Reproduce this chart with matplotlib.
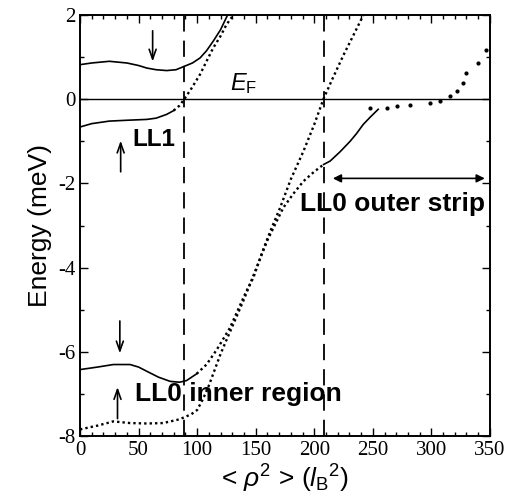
import matplotlib
matplotlib.use("Agg")
import matplotlib.pyplot as plt
from matplotlib.ticker import MultipleLocator

plt.rcParams["font.family"] = ["Liberation Sans", "DejaVu Sans"]
plt.rcParams["mathtext.fontset"] = "custom"
plt.rcParams["mathtext.rm"] = "Liberation Sans"
plt.rcParams["mathtext.it"] = "Liberation Sans:italic"
plt.rcParams["axes.unicode_minus"] = False

# LL1, spin-down (upper) branch
ll1_dn_x = [0, 10, 25, 40, 50, 57, 65, 74, 82, 89, 96, 102.5, 108, 113.8, 120, 126]
ll1_dn_e = [0.82, 0.86, 0.90, 0.86, 0.80, 0.74, 0.70, 0.68, 0.70, 0.78, 0.86, 0.98, 1.15, 1.38, 1.65, 2.0]

# LL1, spin-up (lower) branch
ll1_up_x = [0, 10, 25, 40, 57, 65, 74, 80, 85, 89, 95, 102.5, 108, 113.8, 120, 125, 131]
ll1_up_e = [-0.66, -0.58, -0.52, -0.50, -0.48, -0.45, -0.36, -0.27, -0.15, 0.0, 0.25, 0.59, 0.90, 1.22, 1.50, 1.77, 2.0]

# LL0, upper branch (continues into the steep crossing at ~208)
ll0_dn_x = [0, 15, 28.5, 42.7, 50, 57, 67, 77, 85, 91, 99.6, 108, 116.7, 128, 142, 148, 156,
            163, 170.8, 180, 190.7, 200, 207.8, 215, 225, 234, 242]
ll0_dn_e = [-6.42, -6.36, -6.30, -6.30, -6.36, -6.46, -6.60, -6.70, -6.72, -6.68, -6.52, -6.30,
            -5.95, -5.43, -4.56, -4.24, -3.60, -3.10, -2.58, -1.90, -1.24, -0.60, 0.0, 0.45,
            1.05, 1.55, 2.0]

# LL0, lower branch (bends over into the outer strip)
ll0_up_x = [0, 15, 28.5, 42.7, 57, 71, 85, 95, 100, 105, 110, 116, 120, 125, 130, 140, 150,
            160, 173.5, 182, 190.7, 200, 208, 213.5, 222, 230.6, 236, 241.8, 248, 254.6]
ll0_up_e = [-7.84, -7.75, -7.65, -7.69, -7.70, -7.69, -7.60, -7.48, -7.38, -7.12, -6.80, -6.35,
            -6.05, -5.72, -5.40, -4.75, -4.05, -3.35, -2.58, -2.25, -1.95, -1.72, -1.55, -1.47,
            -1.25, -1.00, -0.82, -0.60, -0.42, -0.24]

# sparse dots at the outer edge
tail_x = [247.6, 262, 270.4, 281.8, 299, 307.4, 316, 321.7, 327, 330, 340, 347]
tail_e = [-0.21, -0.20, -0.17, -0.14, -0.09, -0.05, 0.07, 0.19, 0.39, 0.62, 0.86, 1.18]

edge_x = [89, 208]
x_ticks = [0, 50, 100, 150, 200, 250, 300, 350]
y_ticks = [-8, -6, -4, -2, 0, 2]

DOT = (0, (1, 1.3))


def split(xs, es, x0):
    a = [(x, e) for x, e in zip(xs, es) if x <= x0]
    b = [(x, e) for x, e in zip(xs, es) if x >= x0]
    if a and b and a[-1][0] != b[0][0]:
        b.insert(0, a[-1])
    return list(zip(*a)), list(zip(*b))


fig = plt.figure(figsize=(5.13, 4.99), dpi=100)
ax = fig.add_axes([0.156, 0.126, 0.799, 0.844])

ax.plot(ll1_dn_x, ll1_dn_e, color="black", lw=1.2)

a, b = split(ll1_up_x, ll1_up_e, 80)
ax.plot(a[0], a[1], color="black", lw=1.2)
ax.plot(b[0], b[1], color="black", lw=1.7, ls=DOT)

a, b = split(ll0_dn_x, ll0_dn_e, 100)
ax.plot(a[0], a[1], color="black", lw=1.2)
ax.plot(b[0], b[1], color="black", lw=1.7, ls=DOT)

a, b = split(ll0_up_x, ll0_up_e, 208)
ax.plot(a[0], a[1], color="black", lw=1.7, ls=DOT)
ax.plot(b[0], b[1], color="black", lw=1.2)

ax.plot(tail_x, tail_e, ls="none", marker="o", ms=2, color="black")

ax.axhline(0, color="black", lw=1.0)
for xv in edge_x:
    ax.axvline(xv, color="black", lw=1.3, ls=(0, (9, 5)))

# annotations
arrow = dict(arrowstyle="->,head_length=0.7,head_width=0.25", color="black", lw=1.2)
ax.annotate("", xy=(62, 0.83), xytext=(62, 1.69), arrowprops=arrow)
ax.annotate("", xy=(34.7, -0.92), xytext=(34.7, -1.79), arrowprops=arrow)
ax.annotate("", xy=(34, -6.1), xytext=(34, -5.2), arrowprops=arrow)
ax.annotate("", xy=(32, -6.77), xytext=(32, -7.65), arrowprops=arrow)
ax.annotate("", xy=(213.5, -1.88), xytext=(348, -1.88),
            arrowprops=dict(arrowstyle="<|-|>", color="black", lw=1.2, mutation_scale=12))

ax.text(128, 0.08, r"$E_{\rm F}$", fontsize=17, ha="left", va="bottom")
ax.text(45, -0.95, "LL1", fontsize=17.5, fontweight="bold", ha="left", va="center")
ax.text(47, -7.0, "LL0 inner region", fontsize=19, fontweight="bold", ha="left", va="center")
ax.text(188, -2.5, "LL0 outer strip", fontsize=19, fontweight="bold", ha="left", va="center")

ax.set_xlim(0, 350)
ax.set_ylim(-8, 2)
ax.set_xticks(x_ticks)
ax.set_yticks(y_ticks)
ax.xaxis.set_minor_locator(MultipleLocator(10))
ax.yaxis.set_minor_locator(MultipleLocator(1))
ax.tick_params(which="both", direction="in", top=True, right=True, width=1.0)
ax.tick_params(which="major", length=6)
ax.tick_params(which="minor", length=3)
for lab in ax.get_xticklabels() + ax.get_yticklabels():
    lab.set_fontfamily("Liberation Serif")
    lab.set_fontsize(15)
for sp in ax.spines.values():
    sp.set_linewidth(1.4)

ax.set_ylabel("Energy (meV)", fontsize=19, labelpad=4)
ax.set_xlabel(r"< $\rho^2$ > ($l_{\rm B}$$^2$)", fontsize=19, labelpad=2)

fig.savefig("out.png", dpi=100)
